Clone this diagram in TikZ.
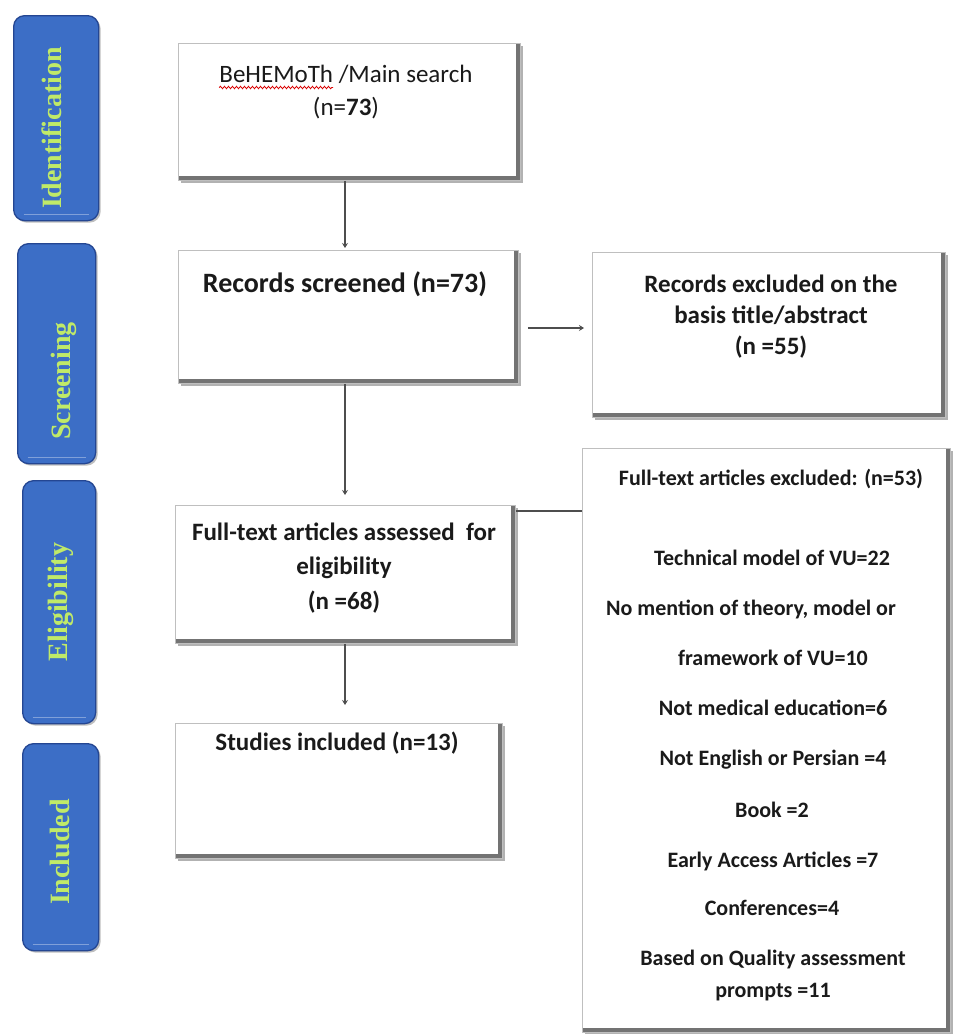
\documentclass[tikz,border=0pt]{standalone}
\usepackage{fontspec}
\setmainfont{Carlito}
\newfontfamily\tabfont{Liberation Serif}
\usetikzlibrary{shadows,decorations.pathmorphing,arrows.meta,calc}
\definecolor{tabblue}{RGB}{60,110,198}
\definecolor{tabedge}{RGB}{36,70,146}
\definecolor{tabtext}{RGB}{192,234,104}
\definecolor{ink}{RGB}{26,26,26}
\definecolor{wire}{RGB}{78,78,78}

\begin{document}
\begin{tikzpicture}[x=1pt,y=-1pt,
  stage/.style={anchor=north west, rounded corners=11pt, fill=tabblue, draw=tabedge,
    line width=1.3pt, inner sep=0,
    drop shadow={shadow xshift=2pt, shadow yshift=-2pt, opacity=0.25, fill=black},
    path picture={\draw[white, opacity=0.35, line width=1.5pt]
      ([xshift=10pt,yshift=6pt]path picture bounding box.south west) --
      ([xshift=-10pt,yshift=6pt]path picture bounding box.south east);}},
  stagelabel/.style={rotate=90, anchor=base, inner sep=0, text=tabtext,
    font=\tabfont\bfseries\fontsize{28}{28}\selectfont},
  box/.style={anchor=north west, fill=white, draw=black!25, line width=0.8pt, inner sep=0,
    drop shadow={shadow xshift=3pt, shadow yshift=-3pt, opacity=0.3, fill=black},
    path picture={\draw[black!55, line width=9pt]
      (path picture bounding box.north east) -- (path picture bounding box.south east)
      -- (path picture bounding box.south west);}},
  ln/.style={inner sep=0, text=ink, text height=0.72em, text depth=0.22em},
  big/.style={ln, font=\bfseries\fontsize{28}{30}\selectfont},
  mid/.style={ln, font=\bfseries\fontsize{25}{30}\selectfont},
  reg/.style={ln, font=\fontsize{25}{30}\selectfont},
  sml/.style={ln, font=\bfseries\fontsize{22}{26}\selectfont},
  wire/.style={draw=wire, line width=2.3pt},
  flow/.style={wire, -{Stealth[length=5pt,width=6pt]}},
  spell/.style={draw=red!85!black, line width=0.8pt,
    decorate, decoration={snake, amplitude=1.2pt, segment length=4pt}}
]
\useasboundingbox[fill=white] (0,0) rectangle (953,1034);

% stage tabs on the left
\node[stage, minimum width=85, minimum height=205] (tabId) at (13,15) {};
\node[stage, minimum width=78, minimum height=220] (tabSc) at (17,243) {};
\node[stage, minimum width=73, minimum height=243] (tabEl) at (22,480) {};
\node[stage, minimum width=76, minimum height=207] (tabIn) at (22,743) {};
\node[stagelabel] (labId) at (61,128) {Identification};
\node[stagelabel] (labSc) at (70,381) {Screening};
\node[stagelabel] (labEl) at (67,602) {Eligibility};
\node[stagelabel] (labIn) at (69,852) {Included};

% flow boxes
\node[box, minimum width=342, minimum height=137] (main) at (178,43) {};
\node[box, minimum width=340, minimum height=133] (scr) at (178,250) {};
\node[box, minimum width=353, minimum height=165] (exc) at (592,252) {};
\node[box, minimum width=340, minimum height=138] (full) at (175,505) {};
\node[box, minimum width=368, minimum height=584] (rej) at (582,448) {};
\node[box, minimum width=327, minimum height=135] (inc) at (175,723) {};

% box texts
\node[reg] (mainA) at (346,80) {BeHEMoTh /Main search};
\node[reg] (mainB) at (346,113) {(n=\textbf{73})};
\draw[spell] ($(mainA.base west)+(0,5)$) -- ++(114,0);

\node[big] (scrA) at (345,290) {Records screened (n=73)};

\node[mid] (excA) at (771,290) {Records excluded on the};
\node[mid] (excB) at (771,321) {basis title/abstract};
\node[mid] (excC) at (771,352) {(n =55)};

\node[mid] (fullA) at (344,538) {Full-text articles assessed\ \ for};
\node[mid] (fullB) at (344,572) {eligibility};
\node[mid] (fullC) at (344,607) {(n =68)};

\node[mid] (incA) at (337,748) {Studies included (n=13)};

\node[sml] (r1) at (771,483) {Full-text articles excluded: (n=53)};
\node[sml] (r2) at (772,563) {Technical model of VU=22};
\node[sml] (r3) at (751,613) {No mention of theory, model or};
\node[sml] (r4) at (773,663) {framework of VU=10};
\node[sml] (r5) at (773,713) {Not medical education=6};
\node[sml] (r6) at (773,763) {Not English or Persian =4};
\node[sml] (r7) at (772,815) {Book =2};
\node[sml] (r8) at (773,865) {Early Access Articles =7};
\node[sml] (r9) at (772,913) {Conferences=4};
\node[sml] (r10) at (773,963) {Based on Quality assessment};
\node[sml] (r11) at (773,995) {prompts =11};

% connectors
\coordinate (spine) at (345,0);
\coordinate (sideA) at (0,328);
\coordinate (sideB) at (0,511);
\draw[flow, shorten >=2pt] (main.south -| spine) -- (scr.north -| spine);
\draw[flow, shorten >=10pt] (scr.south -| spine) -- (full.north -| spine);
\draw[flow, shorten >=18pt] (full.south -| spine) -- (inc.north -| spine);
\draw[flow, shorten <=9pt, shorten >=8pt] (scr.east |- sideA) -- (exc.west |- sideA);
\draw[wire] (full.east |- sideB) -- (rej.west |- sideB);
\end{tikzpicture}
\end{document}
